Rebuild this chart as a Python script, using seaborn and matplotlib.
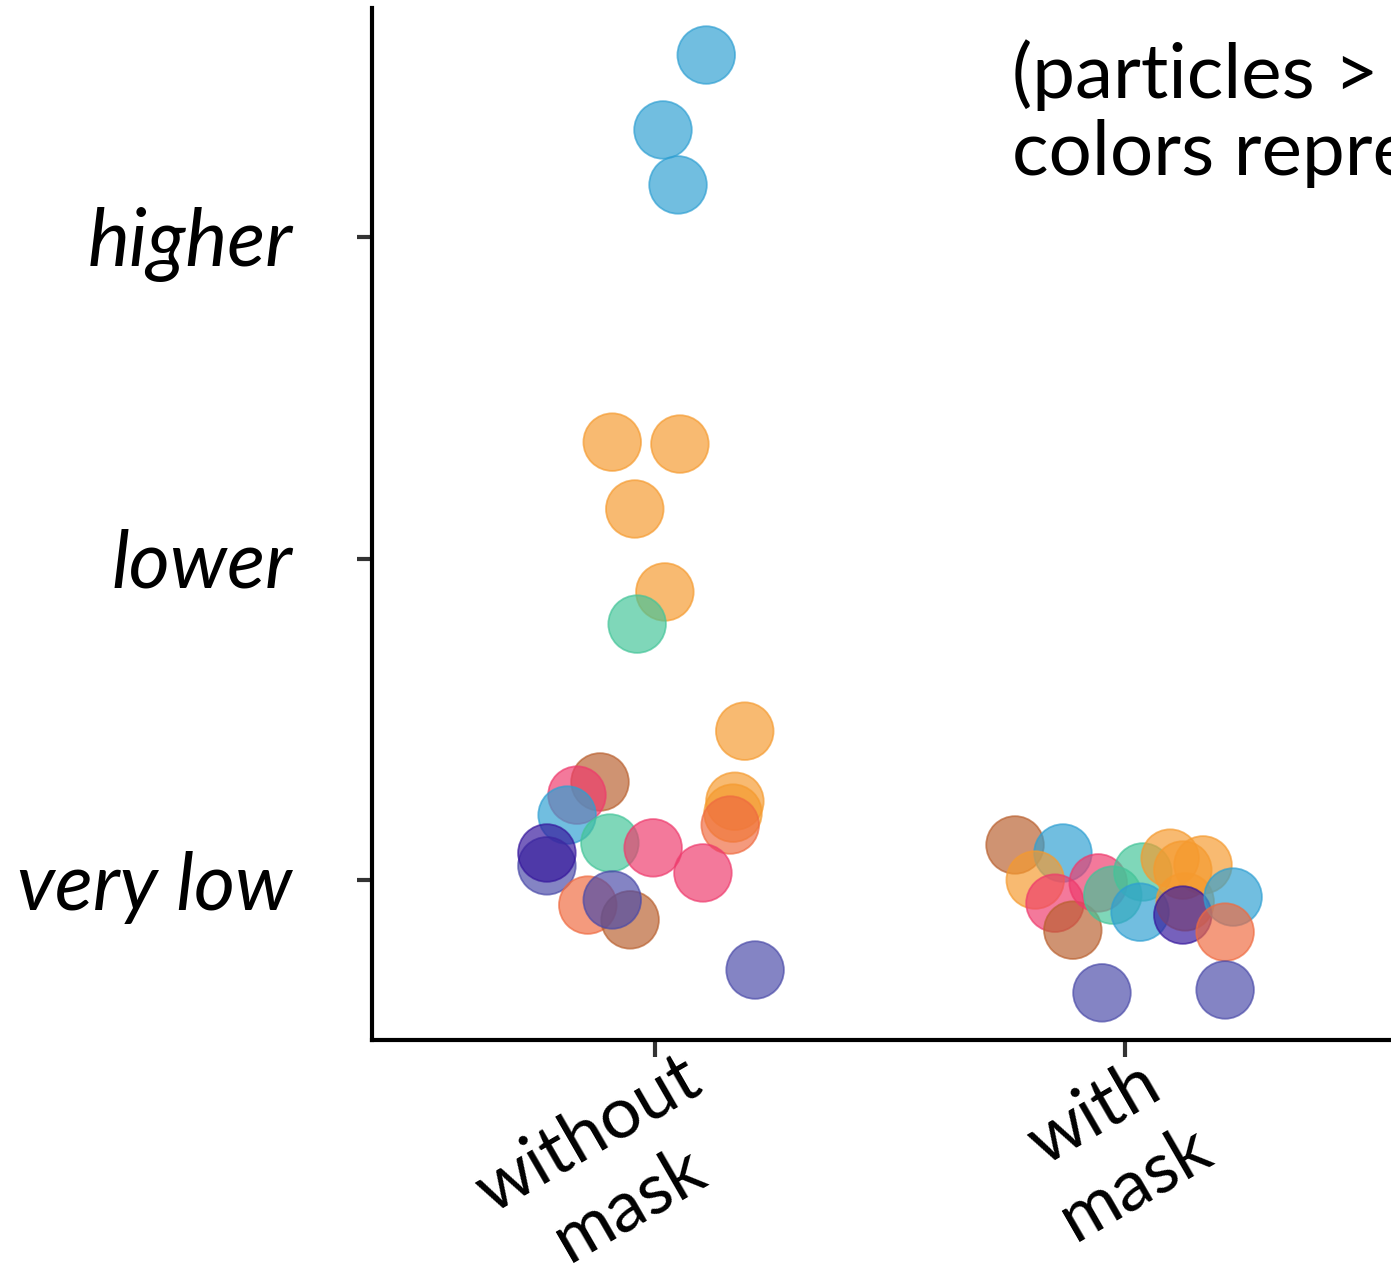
import matplotlib
matplotlib.use("Agg")
import matplotlib.pyplot as plt
import matplotlib.transforms as mtransforms
import seaborn as sns
import pandas as pd

# ---------------- data ----------------
categories = ["without mask", "with mask"]
tick_labels_x = ["without\nmask", "with\nmask"]
level_labels = ["very low", "lower", "higher"]
level_values = [1, 2, 3]

# without mask
wo_offset = [0.109, 0.017, 0.049, -0.091, 0.053, -0.043, 0.021, -0.038, 0.191,
             0.170, 0.166, 0.160, -0.117, -0.166, -0.187, -0.096, -0.230, -0.230,
             -0.004, 0.102, -0.143, -0.053, -0.091, 0.213]
wo_level = [3.566, 3.333, 3.162, 2.362, 2.356, 2.154, 1.896, 1.796, 1.463,
            1.245, 1.208, 1.171, 1.305, 1.264, 1.202, 1.115, 1.044, 1.084,
            1.100, 1.022, 0.922, 0.876, 0.938, 0.720]
wo_color = ["blue", "blue", "blue", "orange", "orange", "orange", "orange", "teal", "orange",
            "orange", "orange", "coral", "brown", "pink", "blue", "teal", "slate", "indigo",
            "pink", "pink", "coral", "brown", "slate", "slate"]

# with mask
wm_offset = [-0.234, -0.132, -0.191, -0.149, -0.111, -0.057, -0.026, 0.038, 0.032,
             0.096, 0.123, 0.166, 0.128, 0.123, 0.230, 0.213, -0.049, 0.213]
wm_level = [1.109, 1.084, 1.000, 0.928, 0.844, 0.991, 0.953, 1.025, 0.900,
            1.068, 1.031, 1.047, 0.932, 0.891, 0.947, 0.838, 0.649, 0.658]
wm_color = ["brown", "blue", "orange", "pink", "brown", "pink", "teal", "teal", "blue",
            "orange", "orange", "orange", "orange", "indigo", "blue", "coral", "slate", "slate"]

palette = {
    "blue": "#2e9fd2",
    "orange": "#f59a2e",
    "teal": "#43c498",
    "pink": "#ee3a6c",
    "coral": "#ef6a40",
    "brown": "#b9602f",
    "indigo": "#35169c",
    "slate": "#4a4aa8",
}

note_line1 = "(particles > 0.5 µm;"
note_line2 = "colors represent speakers)"

# ---------------- frame ----------------
rows = []
for off, lev, col in zip(wo_offset, wo_level, wo_color):
    rows.append({"condition": categories[0], "pos": 0 + off, "level": lev, "color": col})
for off, lev, col in zip(wm_offset, wm_level, wm_color):
    rows.append({"condition": categories[1], "pos": 1 + off, "level": lev, "color": col})
df = pd.DataFrame(rows)

sns.set_theme(style="ticks")
plt.rcParams["font.family"] = ["Lato", "DejaVu Sans"]
plt.rcParams["text.color"] = "black"
plt.rcParams["xtick.color"] = "black"
plt.rcParams["ytick.color"] = "black"

W, H, DPI = 1391, 1269, 100
fig = plt.figure(figsize=(W / DPI, H / DPI), dpi=DPI)

left_px, right_px, bottom_px, top_px = 372, 1700, 1040, 8
ax = fig.add_axes([left_px / W, (H - bottom_px) / H,
                   (right_px - left_px) / W, (bottom_px - top_px) / H])

sns.scatterplot(data=df, x="pos", y="level", hue="color", palette=palette,
                s=1720, alpha=0.68, linewidth=1.3, edgecolor=None, legend=False, ax=ax)
coll = ax.collections[0]
coll.set_edgecolors(coll.get_facecolors())

px_per_unit_x = 470
px_per_unit_y = 321.5
ax.set_xlim((left_px - 655) / px_per_unit_x, (right_px - 655) / px_per_unit_x)
ax.set_ylim(1 + (880 - bottom_px) / px_per_unit_y, 1 + (880 - top_px) / px_per_unit_y)

ax.set_xticks([0, 1])
ax.set_xticklabels(tick_labels_x, fontsize=52, color="black")
ax.set_yticks(level_values)
ax.set_yticklabels(level_labels, fontsize=57, style="italic", color="black")
ax.set_xlabel("")
ax.set_ylabel("")

for s in ["top", "right"]:
    ax.spines[s].set_visible(False)
for s in ["left", "bottom"]:
    ax.spines[s].set_linewidth(3.0)
    ax.spines[s].set_color("black")
    ax.spines[s].set_capstyle("projecting")

ax.tick_params(axis="y", length=11, width=3, color="#333333", labelcolor="black", pad=46)
ax.tick_params(axis="x", length=12, width=3, color="#333333", labelcolor="black", pad=14)

offset = mtransforms.ScaledTranslation(0.24, 0.32, fig.dpi_scale_trans)
for lab in ax.get_xticklabels():
    lab.set_rotation(30)
    lab.set_ha("right")
    lab.set_va("top")
    lab.set_rotation_mode("anchor")
    lab.set_multialignment("center")
    lab.set_linespacing(1.3)
    lab.set_transform(lab.get_transform() + offset)

fig.text(1012 / W, 1 - 98 / H, note_line1, fontsize=55, va="baseline", ha="left", color="black")
fig.text(1012 / W, 1 - 175 / H, note_line2, fontsize=55, va="baseline", ha="left", color="black")

fig.savefig("out.png", dpi=DPI, facecolor="white")
